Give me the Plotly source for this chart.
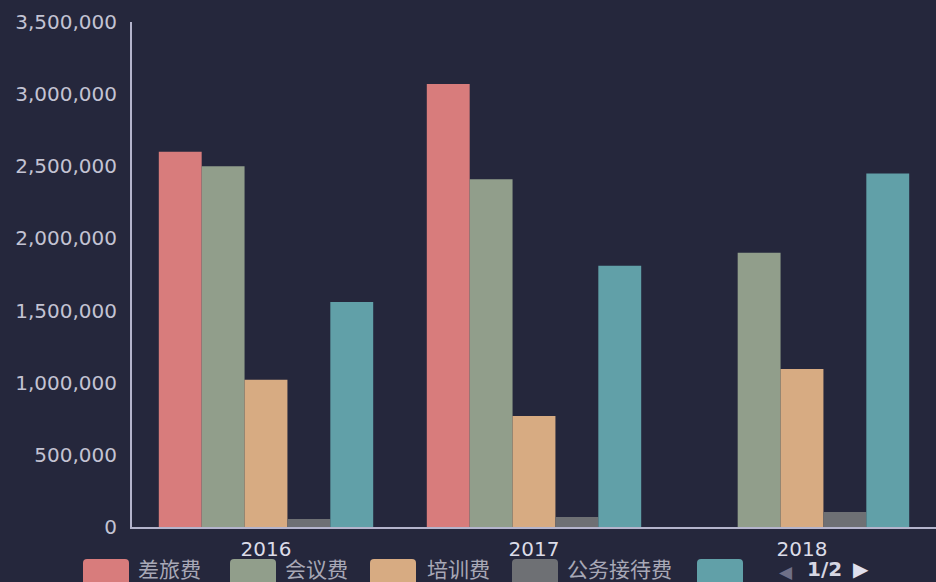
import plotly.graph_objects as go

years = ["2016", "2017", "2018"]
series_names = ["差旅费", "会议费", "培训费", "公务接待费", "办公费"]
travel = [2600000, 3070000, 0]
meeting = [2500000, 2410000, 1900000]
training = [1020000, 770000, 1095000]
reception = [55000, 70000, 104000]
office = [1560000, 1810000, 2450000]
values = [travel, meeting, training, reception, office]
colors = ["#d87c7c", "#919e8b", "#d7ab82", "#6e7074", "#61a0a8"]

BG = "#25273c"
AXIS = "#b4b4cc"
TXT = "#c3c3d3"

fig = go.Figure()
for name, vals, c in zip(series_names, values, colors):
    fig.add_trace(go.Bar(x=years, y=vals, name=name, marker=dict(color=c, line=dict(width=0)),
                         showlegend=False))

W, H = 936, 582
L, T, R = 132, 22, 0
AX_Y = 527
B = H - AX_Y
pw, ph = W - L - R, H - T - B

def px(x):  # pixel -> paper
    return (x - L) / pw

def py(y):
    return (AX_Y - y) / ph

def rounded(x0, y0, x1, y1, r=4):
    X, Y = px, py
    return (f"M{X(x0+r)},{Y(y0)} L{X(x1-r)},{Y(y0)} Q{X(x1)},{Y(y0)} {X(x1)},{Y(y0+r)} "
            f"L{X(x1)},{Y(y1-r)} Q{X(x1)},{Y(y1)} {X(x1-r)},{Y(y1)} "
            f"L{X(x0+r)},{Y(y1)} Q{X(x0)},{Y(y1)} {X(x0)},{Y(y1-r)} "
            f"L{X(x0)},{Y(y0+r)} Q{X(x0)},{Y(y0)} {X(x0+r)},{Y(y0)} Z")

shapes = []
annotations = []
sw_x = [83, 230, 370, 512, 697]
txt_x = [136, 283, 425, 565, None]
for i, (name, c) in enumerate(zip(series_names, colors)):
    x0 = sw_x[i]
    shapes.append(dict(type="path", xref="paper", yref="paper",
                       path=rounded(x0, 559, x0 + 46, 586),
                       fillcolor=c, line=dict(width=0), layer="above"))
    if txt_x[i] is not None:
        annotations.append(dict(text=name, xref="paper", yref="paper", x=px(txt_x[i]), y=py(568),
                                xanchor="left", yanchor="middle", showarrow=False,
                                font=dict(size=21, color="#a8a8b6",
                                          family="Noto Sans CJK SC")))
annotations.append(dict(text="◀", xref="paper", yref="paper", x=px(786), y=py(572),
                        xanchor="center", yanchor="middle", showarrow=False,
                        font=dict(size=17, color="#6f7088", family="DejaVu Sans")))
annotations.append(dict(text="<b>1/2</b>", xref="paper", yref="paper", x=px(824), y=py(569),
                        xanchor="center", yanchor="middle", showarrow=False,
                        font=dict(size=20, color="#d6d6e2", family="DejaVu Sans")))
annotations.append(dict(text="▶", xref="paper", yref="paper", x=px(861), y=py(569),
                        xanchor="center", yanchor="middle", showarrow=False,
                        font=dict(size=20, color="#e0e0ee", family="DejaVu Sans")))

fig.update_layout(
    width=W, height=H,
    margin=dict(l=L, r=R, t=T, b=B, pad=0),
    paper_bgcolor=BG, plot_bgcolor=BG,
    barmode="group", bargap=0.2, bargroupgap=0,
    shapes=shapes, annotations=annotations,
    font=dict(family="DejaVu Sans", color=TXT),
    xaxis=dict(type="category", showgrid=False, showline=True, linecolor=AXIS, linewidth=2,
               ticks="", ticklabelstandoff=3,
               tickfont=dict(size=20, color="#dcdce8", family="DejaVu Sans")),
    yaxis=dict(range=[0, 3500000], dtick=500000, tickformat=",", showgrid=False,
               showline=True, linecolor=AXIS, linewidth=2, zeroline=False,
               ticks="", ticklabelstandoff=9,
               tickfont=dict(size=20, color=TXT, family="DejaVu Sans")),
)

fig.write_html(
    "out.html",
    config={"displayModeBar": False},
    post_script="document.body.style.margin='0';document.body.style.background='#25273c';",
)
